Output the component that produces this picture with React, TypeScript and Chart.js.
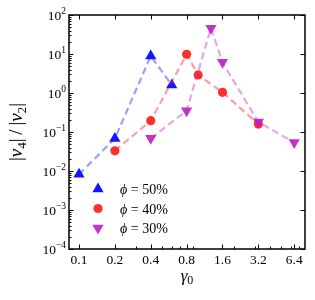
import React, { useEffect, useRef } from "react";
import { Chart, registerables } from "chart.js";

Chart.register(...registerables);

const xTicks = [0.1, 0.2, 0.4, 0.8, 1.6, 3.2, 6.4];
const xMinorTicks = [0.3, 0.5, 0.6, 0.7, 0.9, 2, 3, 4, 5, 6, 7];
const yExponents = [-4, -3, -2, -1, 0, 1, 2];

const phi50X = [0.1, 0.2, 0.4, 0.6];
const phi50Y = [0.0082, 0.068, 8.9, 1.6];
const phi40X = [0.2, 0.4, 0.8, 1.0, 1.6, 3.2];
const phi40Y = [0.033, 0.195, 9.8, 2.9, 1.04, 0.16];
const phi30X = [0.4, 0.8, 1.28, 1.6, 3.2, 6.4];
const phi30Y = [0.069, 0.35, 46, 6.1, 0.18, 0.054];

const seriesLabels = ["50%", "40%", "30%"];

const BLUE = "rgba(20,20,255,1)";
const BLUE_L = "rgba(40,40,255,0.45)";
const RED = "rgba(255,30,30,0.92)";
const RED_L = "rgba(255,40,40,0.45)";
const MAG = "rgba(190,30,200,0.9)";
const MAG_L = "rgba(190,30,200,0.4)";

const SERIF = "'Liberation Serif', 'DejaVu Serif', serif";

function drawMarker(ctx: CanvasRenderingContext2D, style: string, x: number, y: number, r: number, color: string) {
  ctx.fillStyle = color;
  ctx.beginPath();
  if (style === "circle") {
    ctx.arc(x, y, r, 0, Math.PI * 2);
  } else {
    const dir = style === "up" ? 1 : -1;
    for (let i = 0; i < 3; i++) {
      const a = (i * 2 * Math.PI) / 3;
      const px = x + Math.sin(a) * r;
      const py = y - dir * Math.cos(a) * r;
      if (i === 0) ctx.moveTo(px, py);
      else ctx.lineTo(px, py);
    }
    ctx.closePath();
  }
  ctx.fill();
}

function drawPieces(ctx: CanvasRenderingContext2D, pieces: [string, string, number][], cx: number, cy: number) {
  let total = 0;
  for (const [t, f] of pieces) {
    ctx.font = f;
    total += ctx.measureText(t).width;
  }
  let x = cx - total / 2;
  ctx.textAlign = "left";
  ctx.textBaseline = "alphabetic";
  for (const [t, f, dy] of pieces) {
    ctx.font = f;
    ctx.fillText(t, x, cy + dy);
    x += ctx.measureText(t).width;
  }
}

const decor = {
  id: "decor",
  afterDraw(chart: any) {
    const { ctx, chartArea } = chart;
    const { left, right, top, bottom } = chartArea;
    const xs = chart.scales.x;
    const ys = chart.scales.y;
    ctx.save();
    ctx.strokeStyle = "#000";
    ctx.fillStyle = "#000";
    ctx.lineWidth = 1;
    ctx.beginPath();
    for (const v of xTicks) {
      const px = Math.round(xs.getPixelForValue(v)) + 0.5;
      ctx.moveTo(px, bottom);
      ctx.lineTo(px, bottom - 4.5);
      ctx.moveTo(px, top);
      ctx.lineTo(px, top + 4.5);
    }
    for (const v of xMinorTicks) {
      const px = Math.round(xs.getPixelForValue(v)) + 0.5;
      ctx.moveTo(px, bottom);
      ctx.lineTo(px, bottom - 2.5);
    }
    for (const e of yExponents) {
      const py = Math.round(ys.getPixelForValue(Math.pow(10, e))) + 0.5;
      ctx.moveTo(left, py);
      ctx.lineTo(left + 4.5, py);
      ctx.moveTo(right, py);
      ctx.lineTo(right - 4.5, py);
      if (e < 2) {
        for (let m = 2; m <= 9; m++) {
          const pm = Math.round(ys.getPixelForValue(m * Math.pow(10, e))) + 0.5;
          ctx.moveTo(left, pm);
          ctx.lineTo(left + 2.5, pm);
        }
      }
    }
    ctx.stroke();
    ctx.lineWidth = 1.5;
    ctx.strokeRect(left, top, right - left, bottom - top);

    ctx.font = `13.5px ${SERIF}`;
    ctx.textAlign = "center";
    ctx.textBaseline = "alphabetic";
    for (const v of xTicks) {
      const px = xs.getPixelForValue(v);
      ctx.fillText(String(v), px, bottom + 15);
    }
    for (const e of yExponents) {
      const py = ys.getPixelForValue(Math.pow(10, e));
      const exp = e < 0 ? "\u2212" + Math.abs(e) : String(e);
      ctx.font = `9.5px ${SERIF}`;
      const ew = ctx.measureText(exp).width;
      const xr = left - 3;
      ctx.textAlign = "left";
      ctx.fillText(exp, xr - ew, py - 1);
      ctx.font = `13.5px ${SERIF}`;
      ctx.textAlign = "right";
      ctx.fillText("10", xr - ew, py + 5);
    }
    drawPieces(
      ctx,
      [
        ["\u03B3", `italic 17px ${SERIF}`, 0],
        ["0", `12px ${SERIF}`, 3],
      ],
      (left + right) / 2,
      bottom + 32
    );
    ctx.save();
    ctx.translate(22, (top + bottom) / 2);
    ctx.rotate(-Math.PI / 2);
    const big = `19px ${SERIF}`;
    const it = `italic 19px ${SERIF}`;
    const sub = `13px ${SERIF}`;
    drawPieces(
      ctx,
      [
        ["|", big, 0],
        ["\u03BD", it, 0],
        ["4", sub, 3.5],
        ["|\u2009/\u2009|", big, 0],
        ["\u03BD", it, 0],
        ["2", sub, 3.5],
        ["|", big, 0],
      ],
      0,
      0
    );
    ctx.restore();

    const styles = ["up", "circle", "down"];
    const colors = [BLUE, RED, MAG];
    const radii = [6.5, 4.6, 6.5];
    for (let i = 0; i < 3; i++) {
      const ly = bottom - 60 + i * 19.5;
      drawMarker(ctx, styles[i], left + 29, ly, radii[i], colors[i]);
      ctx.fillStyle = "#000";
      ctx.textAlign = "left";
      ctx.font = `italic 14px ${SERIF}`;
      const lx = left + 51;
      ctx.fillText("\u03D5", lx, ly + 5);
      const w = ctx.measureText("\u03D5").width;
      ctx.font = `14px ${SERIF}`;
      ctx.fillText(" = " + seriesLabels[i], lx + w, ly + 5);
    }
    ctx.restore();
  },
};

function pts(xs: number[], ys: number[]) {
  return xs.map((x, i) => ({ x, y: ys[i] }));
}

export default function App() {
  const ref = useRef<HTMLCanvasElement>(null);
  useEffect(() => {
    const canvas = ref.current;
    if (!canvas) return;
    const common = {
      borderWidth: 2.2,
      borderDash: [7, 4],
      showLine: true,
      fill: false,
      tension: 0,
      pointBorderWidth: 0,
    };
    const chart = new Chart(canvas, {
      type: "line",
      data: {
        datasets: [
          {
            ...common,
            label: "50",
            data: pts(phi50X, phi50Y),
            borderColor: BLUE_L,
            pointBackgroundColor: BLUE,
            pointBorderColor: BLUE,
            pointStyle: "triangle",
            pointRadius: 6.5,
            order: 3,
          },
          {
            ...common,
            label: "40",
            data: pts(phi40X, phi40Y),
            borderColor: RED_L,
            pointBackgroundColor: RED,
            pointBorderColor: RED,
            pointStyle: "circle",
            pointRadius: 4.6,
            order: 2,
          },
          {
            ...common,
            label: "30",
            data: pts(phi30X, phi30Y),
            borderColor: MAG_L,
            pointBackgroundColor: MAG,
            pointBorderColor: MAG,
            pointStyle: "triangle",
            pointRotation: 180,
            pointRadius: 6.5,
            order: 1,
          },
        ],
      },
      options: {
        animation: false,
        responsive: false,
        maintainAspectRatio: false,
        layout: { padding: { left: 0, top: 15, right: 10, bottom: 0 } },
        plugins: { legend: { display: false }, tooltip: { enabled: false } },
        scales: {
          x: {
            type: "logarithmic",
            min: 0.0824,
            max: 7.88,
            grid: { display: false },
            border: { display: false },
            ticks: { display: false },
            afterFit: (s: any) => {
              s.height = 51;
            },
          },
          y: {
            type: "logarithmic",
            min: 1e-4,
            max: 1e2,
            grid: { display: false },
            border: { display: false },
            ticks: { display: false },
            afterFit: (s: any) => {
              s.width = 69;
            },
          },
        },
      },
      plugins: [decor],
    } as any);
    return () => chart.destroy();
  }, []);
  return (
    <div style={{ position: "fixed", left: 0, top: 0, width: 315, height: 300, background: "#fff" }}>
      <canvas ref={ref} width={315} height={300} style={{ width: 315, height: 300 }} />
    </div>
  );
}
